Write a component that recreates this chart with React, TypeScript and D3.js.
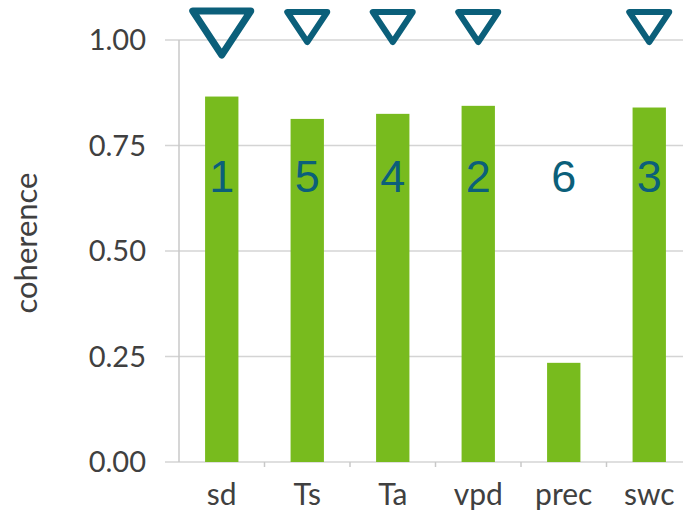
import React from "react";
import { scaleBand, scaleLinear } from "d3";

const categories = ["sd", "Ts", "Ta", "vpd", "prec", "swc"];
const coherence = [0.866, 0.813, 0.825, 0.844, 0.235, 0.84];
const ranks = ["1", "5", "4", "2", "6", "3"];
// triangle marker above each bar: "big", "small" or none
const markers = ["big", "small", "small", "small", "", "small"];
const yTicks = [0, 0.25, 0.5, 0.75, 1];

const W = 683;
const H = 516;
const left = 179;
const top = 40;
const bottom = 462;
const step = 85.5;

function App() {
  const x = scaleBand<string>()
    .domain(categories)
    .range([left, left + step * categories.length])
    .paddingInner(0.61)
    .paddingOuter(0.305);
  const cells = scaleBand<string>()
    .domain(categories)
    .range([left, left + step * categories.length]);
  const y = scaleLinear().domain([0, 1]).range([bottom, top]);

  const tri = (cx: number, kind: string) => {
    const half = kind === "big" ? 29 : 20;
    const t = kind === "big" ? 11 : 12;
    const h = kind === "big" ? 44 : 30;
    return `M${cx - half},${t}L${cx + half},${t}L${cx},${t + h}Z`;
  };

  return (
    <svg width={W} height={H} style={{ position: "absolute", left: 0, top: 0 }}>
      <rect width={W} height={H} fill="#fff" />
      {/* grid */}
      {yTicks.map((t) => (
        <line key={t} x1={165} x2={W} y1={y(t)} y2={y(t)} stroke="#d4d4d4" strokeWidth={1.5} />
      ))}
      <line x1={left} x2={left} y1={top} y2={bottom} stroke="#c8c8c8" strokeWidth={1.5} />
      {categories.map((c) => (
        <line key={c} x1={(cells(c) as number) + step} x2={(cells(c) as number) + step} y1={bottom} y2={bottom + 5} stroke="#c8c8c8" strokeWidth={1.5} />
      ))}
      {/* y tick labels */}
      {yTicks.map((t) => (
        <text key={t} x={146} y={y(t)} dy="0.36em" textAnchor="end" fontFamily="Lato" fontSize={29} fill="#404040">
          {t.toFixed(2)}
        </text>
      ))}
      <text transform={`translate(37,243) rotate(-90)`} textAnchor="middle" fontFamily="Lato" fontSize={31} fill="#404040">
        coherence
      </text>
      {/* bars */}
      {categories.map((c, i) => (
        <rect key={c} x={x(c)} y={y(coherence[i])} width={x.bandwidth()} height={bottom - y(coherence[i])} fill="#78bb1e" />
      ))}
      {/* category labels */}
      {categories.map((c) => (
        <text key={c} x={(x(c) as number) + x.bandwidth() / 2} y={505} textAnchor="middle" fontFamily="Lato" fontSize={30} fill="#404040">
          {c}
        </text>
      ))}
      {/* rank numbers */}
      {categories.map((c, i) => (
        <text key={c} x={(x(c) as number) + x.bandwidth() / 2} y={192} textAnchor="middle" fontFamily="Liberation Sans" fontSize={45} fill="#0b5f7a">
          {ranks[i]}
        </text>
      ))}
      {/* triangles */}
      {categories.map((c, i) =>
        markers[i] ? (
          <path key={c} d={tri((x(c) as number) + x.bandwidth() / 2, markers[i])} fill="none" stroke="#0b5f7a" strokeWidth={markers[i] === "big" ? 7 : 6} strokeLinejoin="round" />
        ) : null
      )}
    </svg>
  );
}

export default App;
